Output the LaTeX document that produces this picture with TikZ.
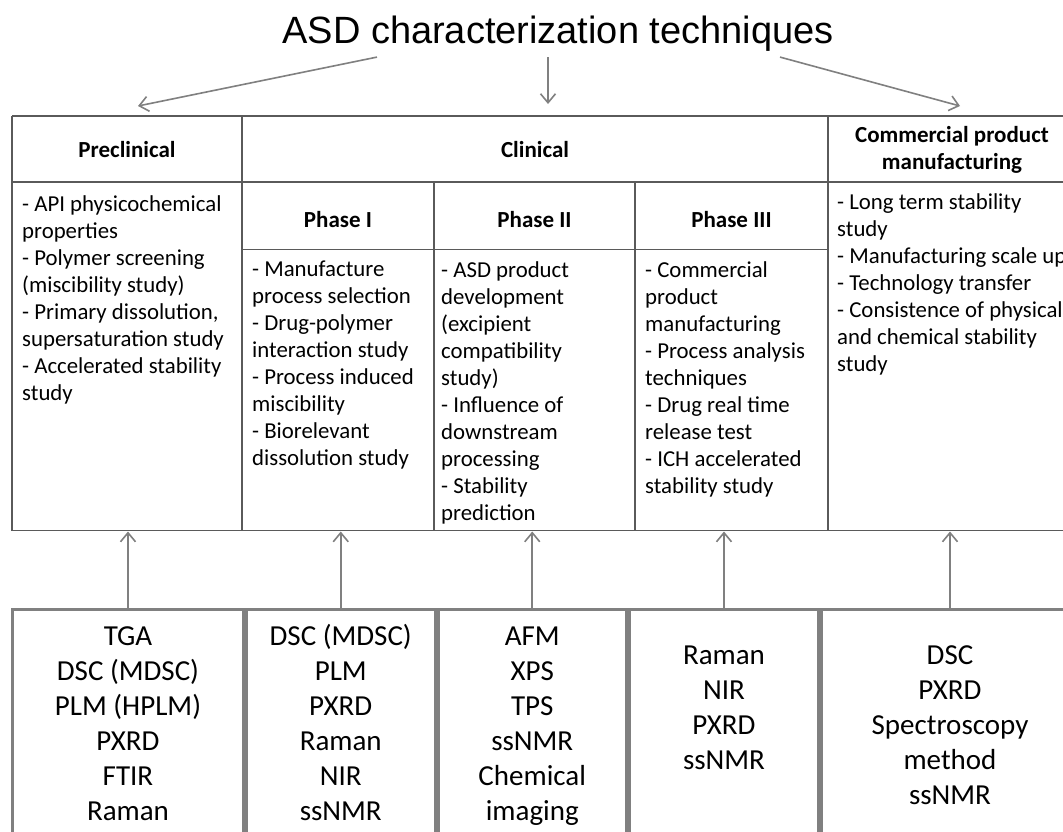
\documentclass[tikz,border=0pt]{standalone}
\usepackage{fontspec}
\setmainfont{Carlito}
\newfontfamily\titlefont{Liberation Sans}
\usetikzlibrary{positioning,arrows.meta}
\definecolor{rulegray}{HTML}{5A5A5A}
\definecolor{arrowgray}{HTML}{808080}

\begin{document}
\begin{tikzpicture}[x=1pt,y=-1pt,
	head/.style={font=\bfseries\fontsize{23}{27}\selectfont, align=center, inner sep=0pt},
	body/.style={font=\fontsize{22.8}{27}\selectfont, align=left, anchor=north west, inner sep=0pt, execute at begin node=\strut},
	techbox/.style={draw=arrowgray, line width=3pt},
	techs/.style={font=\fontsize{29}{35}\selectfont, align=center, inner sep=0pt, execute at begin node=\strut},
	link/.style={draw=arrowgray, line width=1.6pt, -{Straight Barb[length=9pt,width=15pt]}}]
	\useasboundingbox (0,0) rectangle (1063,831);
	\clip (0,0) rectangle (1063,831);
	\fill[white] (0,0) rectangle (1063,831);

	\node[font=\titlefont\fontsize{38}{46}\selectfont, inner sep=0pt, anchor=base] (title) at (558,43) {ASD characterization techniques};

	\coordinate (pre in) at (138,106);
	\coordinate (clin in) at (548,104);
	\coordinate (com in) at (960,106);
	\coordinate (tbl) at (0,531.5);

	\draw[link] ([xshift=-181pt,yshift=-6pt]title.south) -- (pre in);
	\draw[link] ([xshift=-10pt,yshift=-6pt]title.south) -- (clin in);
	\draw[link] ([xshift=222pt,yshift=-6pt]title.south) -- (com in);

	\draw[rulegray, line width=1.6pt] (12,116) -- (1080,116) (12,182) -- (1080,182)
		(242,249.5) -- (828,249.5) (12,530.5) -- (1080,530.5)
		(12,116) -- (12,530.5) (242,116) -- (242,530.5) (828,116) -- (828,530.5)
		(434,182) -- (434,530.5) (635,182) -- (635,530.5);

	\node[head] (pre) at (127,150) {Preclinical};
	\node[head] (clin) at (535,150) {Clinical};
	\node[head] (com) at (952,150) {Commercial product\\manufacturing};
	\node[head] (ph1) at (338,220) {Phase I};
	\node[head] (ph2) at (534.5,220) {Phase II};
	\node[head] (ph3) at (731.5,220) {Phase III};

	\node[body] (pre txt) at (22,195) {- API physicochemical\\properties\\- Polymer screening\\(miscibility study)\\- Primary dissolution,\\supersaturation study\\- Accelerated stability\\study};
	\node[body] (ph1 txt) at (252,261) {- Manufacture\\process selection\\- Drug-polymer\\interaction study\\- Process induced\\miscibility\\- Biorelevant\\dissolution study};
	\node[body] (ph2 txt) at (441,261) {- ASD product\\development\\(excipient\\compatibility\\study)\\- Influence of\\downstream\\processing\\- Stability\\prediction};
	\node[body] (ph3 txt) at (645,261) {- Commercial\\product\\manufacturing\\- Process analysis\\techniques\\- Drug real time\\release test\\- ICH accelerated\\stability study};
	\node[body] (com txt) at (837,193) {- Long term stability\\study\\- Manufacturing scale up\\- Technology transfer\\- Consistence of physical\\and chemical stability\\study};

	\node[techbox, minimum width=231pt, minimum height=240pt] (box1) at (128,729) {};
	\node[techbox, minimum width=188.5pt, minimum height=240pt] (box2) at (340.75,729) {};
	\node[techbox, minimum width=188.5pt, minimum height=240pt] (box3) at (532.25,729) {};
	\node[techbox, minimum width=189pt, minimum height=240pt] (box4) at (724,729) {};
	\node[techbox, minimum width=257pt, minimum height=240pt] (box5) at (950,729) {};

	\node[techs, below=19pt of box1.north] (tech1) {TGA\\DSC (MDSC)\\PLM (HPLM)\\PXRD\\FTIR\\Raman};
	\node[techs, below=17pt of box2.north] (tech2) {DSC (MDSC)\\PLM\\PXRD\\Raman\\NIR\\ssNMR};
	\node[techs, below=19pt of box3.north] (tech3) {AFM\\XPS\\TPS\\ssNMR\\Chemical\\imaging};
	\node[techs, below=38pt of box4.north] (tech4) {Raman\\NIR\\PXRD\\ssNMR};
	\node[techs, below=38pt of box5.north] (tech5) {DSC\\PXRD\\Spectroscopy\\method\\ssNMR};

	\draw[link] (box1.north) -- (box1.north |- tbl);
	\draw[link] (box2.north) -- (box2.north |- tbl);
	\draw[link] (box3.north) -- (box3.north |- tbl);
	\draw[link] (box4.north) -- (box4.north |- tbl);
	\draw[link] (box5.north) -- (box5.north |- tbl);
\end{tikzpicture}
\end{document}
